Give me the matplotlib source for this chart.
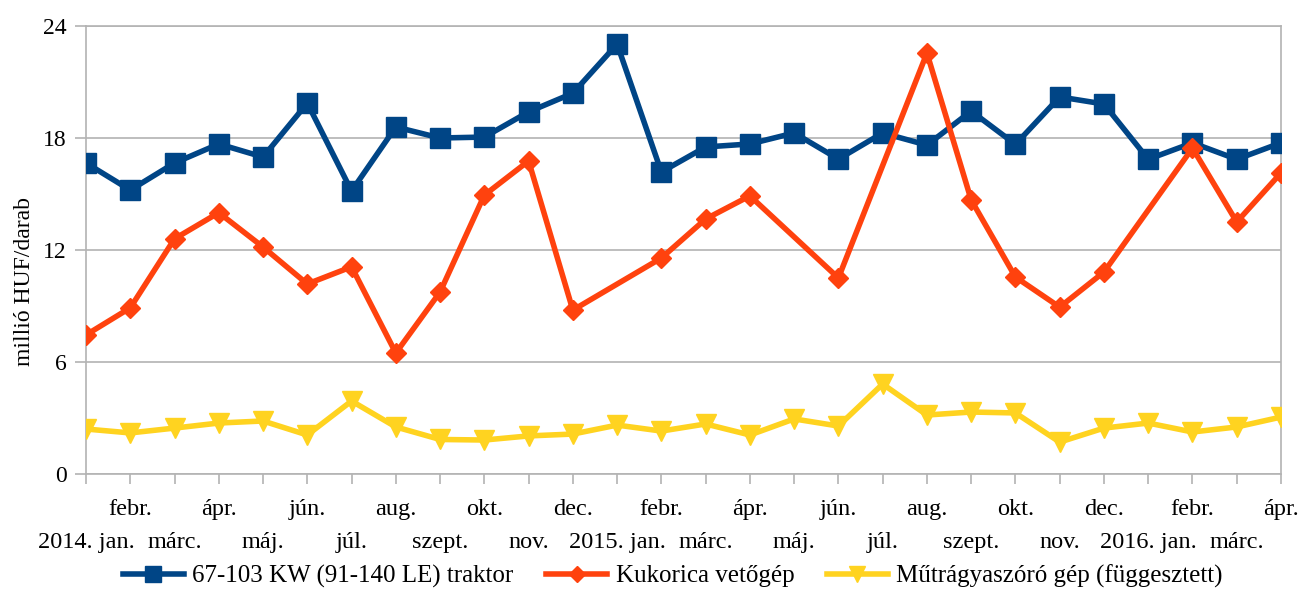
import numpy as np
import matplotlib
matplotlib.use("Agg")
import matplotlib.pyplot as plt

months = ["2014. jan.", "febr.", "márc.", "ápr.", "máj.", "jún.", "júl.", "aug.",
          "szept.", "okt.", "nov.", "dec.",
          "2015. jan.", "febr.", "márc.", "ápr.", "máj.", "jún.", "júl.", "aug.",
          "szept.", "okt.", "nov.", "dec.",
          "2016. jan.", "febr.", "márc.", "ápr."]

traktor = [16.66, 15.21, 16.66, 17.68, 16.98, 19.87, 15.16, 18.59, 18.0, 18.05,
           19.4, 20.4, 23.03, 16.18, 17.52, 17.68, 18.27, 16.87, 18.27, 17.62,
           19.44, 17.66, 20.2, 19.82, 16.86, 17.74, 16.86, 17.74]

kukorica = [7.45, 8.9, 12.6, 14.0, 12.16, 10.18, 11.1, 6.48, 9.75, 14.94,
            16.77, 8.78, np.nan, 11.57, 13.66, 14.9, np.nan, 10.5, np.nan, 22.55,
            14.68, 10.55, 8.94, 10.82, np.nan, 17.46, 13.5, 16.13]

mutragya = [2.41, 2.2, 2.46, 2.73, 2.84, 2.09, 3.91, 2.52, 1.85, 1.82,
            2.04, 2.14, 2.62, 2.3, 2.68, 2.09, 2.95, 2.57, 4.82, 3.16,
            3.32, 3.27, 1.71, 2.46, 2.73, 2.25, 2.52, 3.05]

series_names = ["67-103 KW (91-140 LE) traktor", "Kukorica vetőgép",
                "Műtrágyaszóró gép (függesztett)"]
y_ticks = [0, 6, 12, 18, 24]
y_label = "millió HUF/darab"

plt.rcParams['font.family'] = ['Liberation Serif', 'DejaVu Serif']

fig = plt.figure(figsize=(13.01, 5.90), dpi=100)
ax = fig.add_axes([86/1301, 1-474/590, (1281-86)/1301, (474-26)/590])

x = np.arange(len(months))
grid_c = "#b3b3b3"

def plot_series(vals, color, marker, ms, label):
    v = np.array(vals, dtype=float)
    m = ~np.isnan(v)
    ax.plot(x[m], v[m], color=color, lw=4, marker=marker, ms=ms,
            label=label, solid_joinstyle='miter', zorder=3)

plot_series(traktor, "#004586", "s", 14, series_names[0])
plot_series(kukorica, "#ff420e", "D", 10, series_names[1])
plot_series(mutragya, "#ffd320", "v", 14, series_names[2])

ax.set_xlim(0, len(months)-1)
ax.set_ylim(0, 24)
ax.set_yticks(y_ticks)
ax.set_yticklabels([str(t) for t in y_ticks], fontsize=17)
ax.yaxis.grid(True, color=grid_c, lw=1.2)
ax.set_axisbelow(True)

odd = x[1::2]
even = x[0::2]
ax.set_xticks(odd)
ax.set_xticklabels([months[i] for i in odd], fontsize=17.5)
ax.set_xticks(even, minor=True)
ax.set_xticklabels([months[i] for i in even], minor=True, fontsize=17.5)

for s in ax.spines.values():
    s.set_color(grid_c)
    s.set_linewidth(1.2)
ax.tick_params(axis='x', which='major', length=7.5, width=1.2, color=grid_c, pad=10.5)
ax.tick_params(axis='x', which='minor', length=7.5, width=1.2, color=grid_c, pad=34.3)
ax.tick_params(axis='y', length=8, width=1.2, color=grid_c, pad=6)

ax.set_ylabel(y_label, fontsize=17)
ax.yaxis.set_label_coords(-0.0427, 0.4286)

ax.legend(loc='center', bbox_to_anchor=(0.491, -0.228), ncol=3, frameon=False,
          fontsize=18, handlelength=2.45, handletextpad=0.33,
          columnspacing=1.3, numpoints=1, markerscale=0.85)

fig.savefig("out.png", dpi=100)
